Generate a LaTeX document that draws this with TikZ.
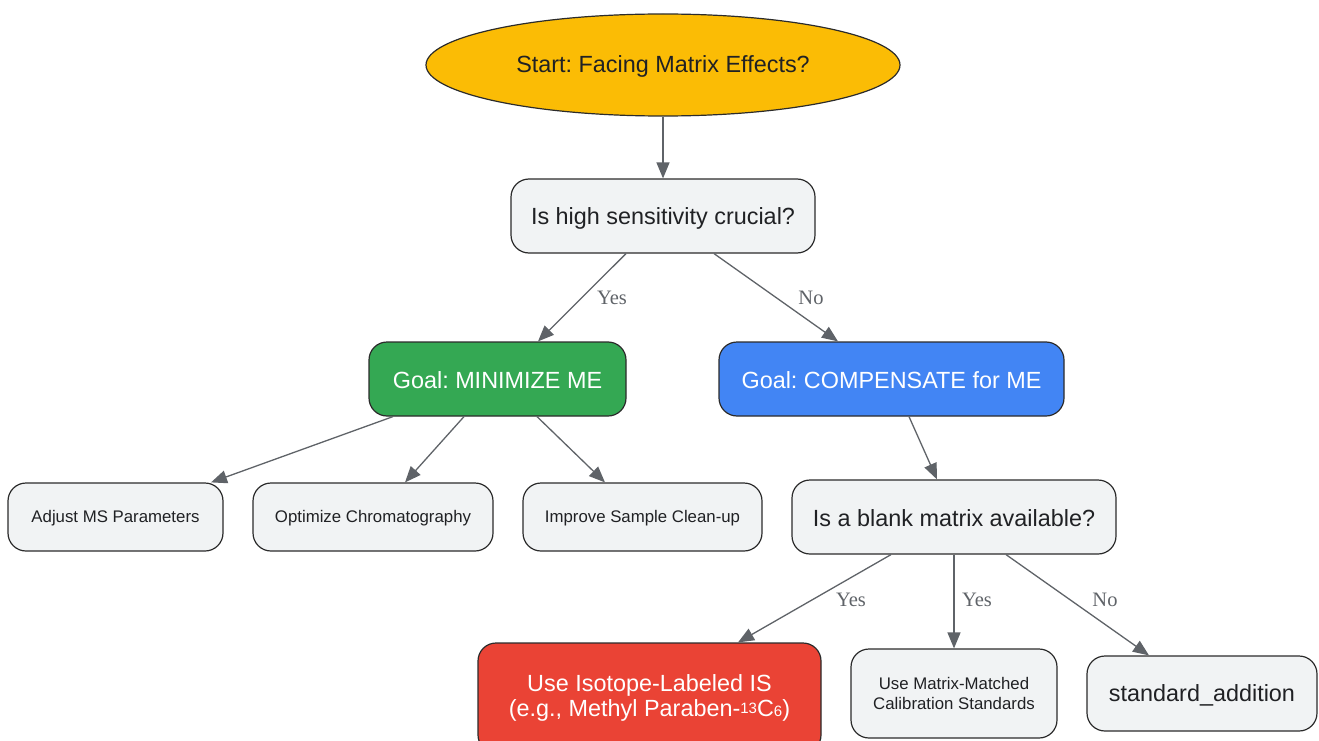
\documentclass[tikz,border=0pt]{standalone}
\usepackage{fontspec}
\setmainfont{Liberation Sans}
\newfontfamily\labelfont{Liberation Serif}
\usetikzlibrary{shapes.geometric,arrows.meta}
\definecolor{startyellow}{HTML}{FBBC05}
\definecolor{goalgreen}{HTML}{34A853}
\definecolor{goalblue}{HTML}{4285F4}
\definecolor{isored}{HTML}{EA4335}
\definecolor{boxgray}{HTML}{F1F3F4}
\definecolor{boxline}{HTML}{2B2B2B}
\definecolor{textdark}{HTML}{202124}
\definecolor{edgegray}{HTML}{5F6368}
\frenchspacing
\begin{document}
\begin{tikzpicture}[
		x=1pt, y=-1pt,
		box/.style={draw=boxline, line width=1.2pt, rounded corners=18pt, fill=boxgray, text=textdark, align=center, inner sep=0pt},
		startnode/.style={ellipse, draw=boxline, line width=1.2pt, fill=startyellow, text=textdark, minimum width=474pt, minimum height=102pt, inner sep=0pt},
		bigtext/.style={font=\fontsize{23.4}{25}\selectfont},
		smalltext/.style={font=\fontsize{16.8}{19.5}\selectfont},
		arrow/.style={draw=edgegray, line width=1.3pt, -{Triangle[length=16pt,width=13pt]}},
		yesno/.style={font=\labelfont\fontsize{20.5}{22}\selectfont, text=edgegray, inner sep=0pt}
	]
	\useasboundingbox (0,0) rectangle (1319,741);

	\node[startnode, bigtext] (start) at (663,65) {\raisebox{-1pt}[\height][\depth]{Start: Facing Matrix Effects?}};
	\node[box, bigtext, minimum width=304pt, minimum height=74pt] (sens) at (663,216) {\raisebox{-2pt}[\height][\depth]{Is high sensitivity crucial?}};
	\node[box, bigtext, fill=goalgreen, text=white, minimum width=257pt, minimum height=74pt] (minimize) at (497.5,379) {\raisebox{-1.5pt}[\height][\depth]{Goal: MINIMIZE ME}};
	\node[box, bigtext, fill=goalblue, text=white, minimum width=345pt, minimum height=74pt] (compensate) at (891.5,379) {\raisebox{-1.5pt}[\height][\depth]{Goal: COMPENSATE for ME}};

	\node[box, smalltext, minimum width=215pt, minimum height=68pt] (adjust) at (115.5,517) {\raisebox{-1.5pt}[\height][\depth]{Adjust MS Parameters}};
	\node[box, smalltext, minimum width=240pt, minimum height=68pt] (optimize) at (373,517) {\raisebox{-1.5pt}[\height][\depth]{Optimize Chromatography}};
	\node[box, smalltext, minimum width=239pt, minimum height=68pt] (cleanup) at (642.5,517) {\raisebox{-1.5pt}[\height][\depth]{Improve Sample Clean-up}};
	\node[box, bigtext, minimum width=324pt, minimum height=74pt] (blank) at (954,517) {\raisebox{-1.5pt}[\height][\depth]{Is a blank matrix available?}};

	\node[box, bigtext, fill=isored, text=white, minimum width=343pt, minimum height=110pt] (isotope) at (649.5,698) {Use Isotope-Labeled IS\\(e.g., Methyl Paraben-{\fontsize{15}{15}\selectfont\raisebox{3pt}{13}}C{\fontsize{15}{15}\selectfont 6})};
	\node[box, smalltext, minimum width=206pt, minimum height=89pt] (matched) at (954,693.5) {Use Matrix-Matched\\Calibration Standards};
	\node[box, bigtext, minimum width=230pt, minimum height=75pt] (stdadd) at (1202,693.5) {\raisebox{-2pt}[\height][\depth]{standard\_addition}};

	% connectors
	\draw[arrow] (start) -- (sens);
	\draw[arrow] ([xshift=-37pt]sens.south) -- ([xshift=40.5pt]minimize.north);
	\draw[arrow] ([xshift=51pt]sens.south) -- ([xshift=-53.5pt]compensate.north);
	\draw[arrow] ([xshift=-104.5pt]minimize.south) -- ([xshift=95.5pt]adjust.north);
	\draw[arrow] ([xshift=-33.5pt]minimize.south) -- ([xshift=32pt]optimize.north);
	\draw[arrow] ([xshift=39.5pt]minimize.south) -- ([xshift=-37.5pt]cleanup.north);
	\draw[arrow] ([xshift=17.5pt]compensate.south) -- ([xshift=-17pt]blank.north);
	\draw[arrow] ([xshift=-63pt]blank.south) -- ([xshift=88.5pt]isotope.north);
	\draw[arrow] (blank.south) -- (matched.north);
	\draw[arrow] ([xshift=52pt]blank.south) -- ([xshift=-53pt]stdadd.north);

	% edge labels
	\node[yesno] (yes1) at (612,298) {Yes};
	\node[yesno] (no1) at (811,298) {No};
	\node[yesno] (yes2) at (851,600) {Yes};
	\node[yesno] (yes3) at (977,600) {Yes};
	\node[yesno] (no2) at (1105,600) {No};
\end{tikzpicture}
\end{document}
